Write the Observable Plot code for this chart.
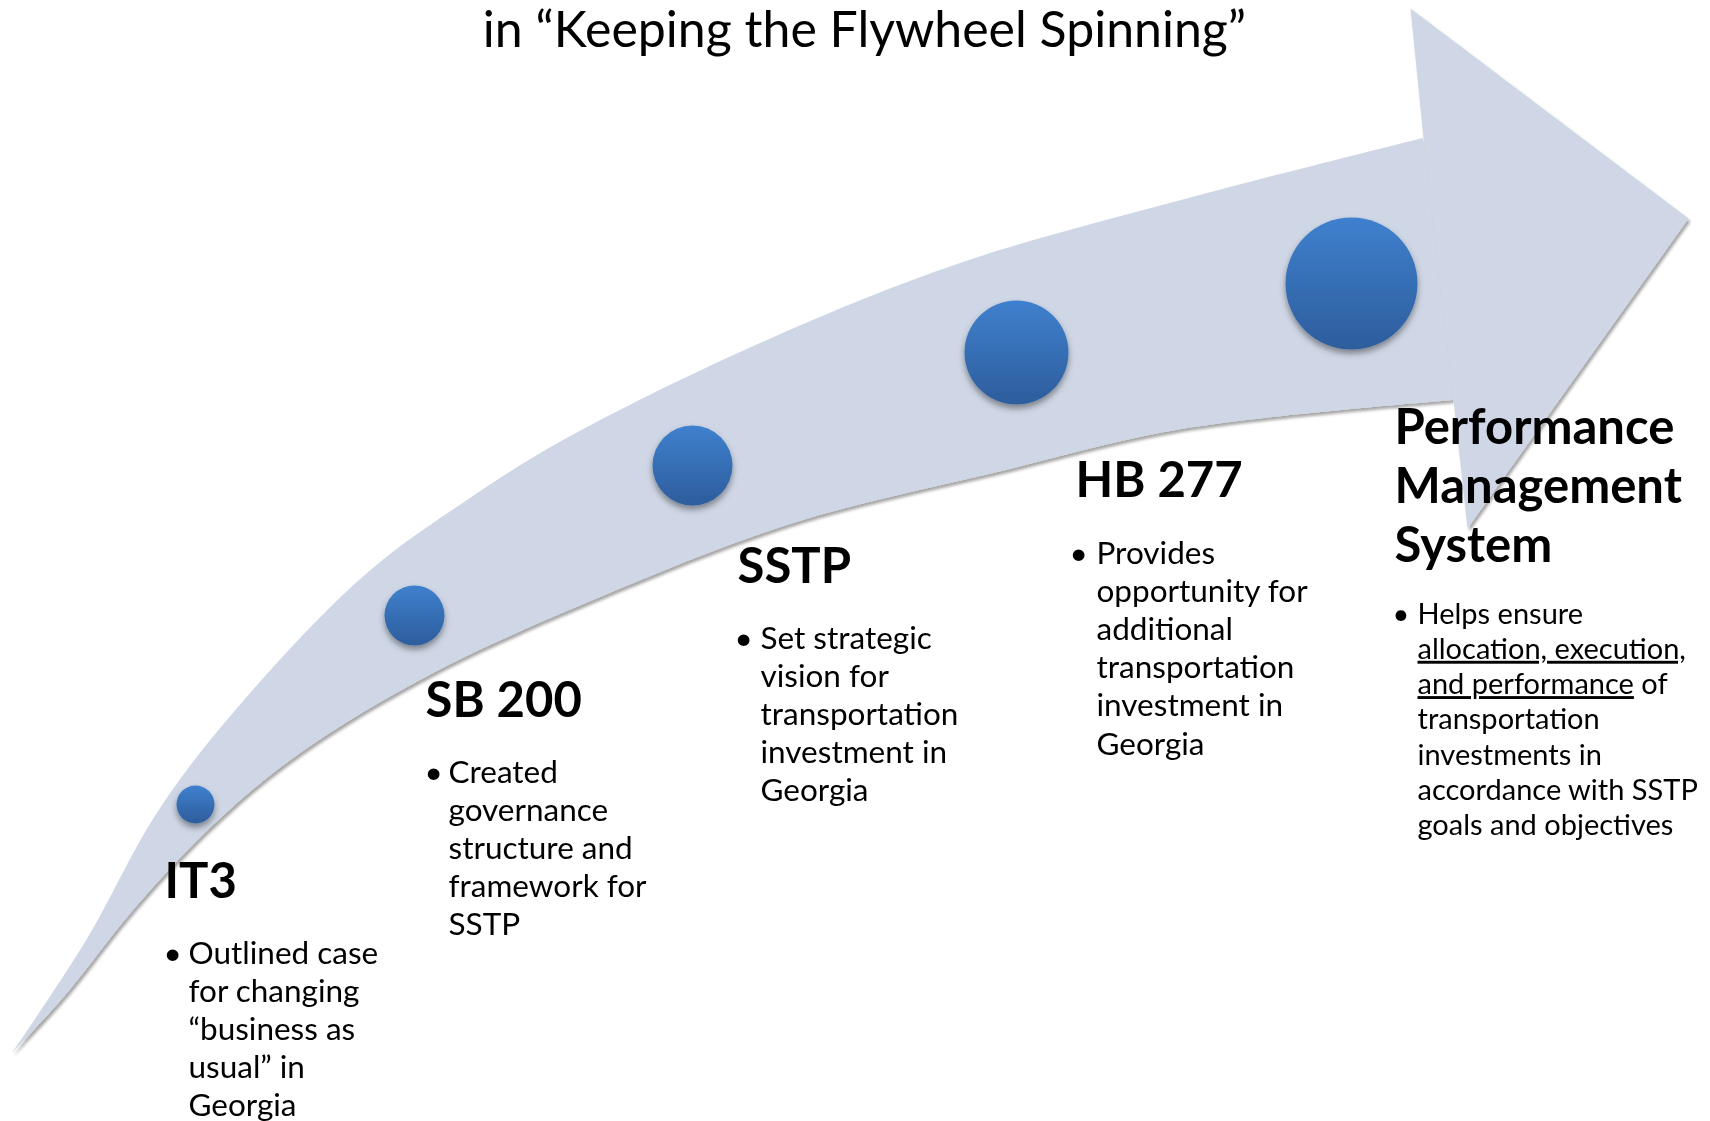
<!DOCTYPE html>
<html>
<head>
<meta charset="utf-8">
<script src="https://cdn.jsdelivr.net/npm/d3@7"></script>
<script src="https://cdn.jsdelivr.net/npm/@observablehq/plot@0.6"></script>
<style>
html, body { margin: 0; padding: 0; background: #ffffff; }
#chart svg { display: block; }
</style>
</head>
<body>
<div id="chart"></div>
<script>
// ---- Text content ----
const title = "in “Keeping the Flywheel Spinning”";
const milestones = ["IT3", "SB 200", "SSTP", "HB 277", "Performance\nManagement\nSystem"];
const descriptions = [
  "Outlined case\nfor changing\n“business as\nusual” in\nGeorgia",
  "Created\ngovernance\nstructure and\nframework for\nSSTP",
  "Set strategic\nvision for\ntransportation\ninvestment in\nGeorgia",
  "Provides\nopportunity for\nadditional\ntransportation\ninvestment in\nGeorgia",
  "Helps ensure\nallocation, execution,\nand performance of\ntransportation\ninvestments in\naccordance with SSTP\ngoals and objectives"
];

// ---- Milestone circles ----
const circleX = [195, 414, 692, 1016, 1351];
const circleY = [804, 615, 465, 352, 283];
const circleR = [19, 30, 40, 52, 66];

// ---- Label anchors ----
const labelX = [164, 425, 737, 1075, 1394];
const labelBaseline = [897, 716, 582, 496, 443];
const bulletX = [163, 424, 734, 1069, 1392];
const bodyX = [188, 448, 760, 1096, 1417];
const bodyBaseline = [963, 782, 648, 563, 623];
const bodyStep = [38.2, 38.2, 38.2, 38.2, 35.3];
const bodySize = [31.5, 31.5, 31.5, 31.5, 29];

// ---- Arrow outline ----
const upperX = [12, 85, 160, 250, 367, 467, 563, 760, 960, 1181, 1423];
const upperY = [1053, 942, 808, 693, 573, 500, 440, 343, 263, 200, 138];
const lowerX = [12, 67, 133, 213, 300, 433, 600, 793, 993, 1181, 1453];
const lowerY = [1053, 993, 910, 825, 753, 673, 597, 523, 473, 429, 400];
const headX = [1423, 1410, 1688, 1467, 1453];
const headY = [138, 8, 218, 528, 400];

const W = 1710, H = 1121;
const FONT = "Lato, 'Open Sans', sans-serif";
const ARROW = "#CFD7E6";
const headSize = 49, headStep = 59;

const shaft = upperX.map((_, i) => ({x1: upperX[i], y1: upperY[i], x2: lowerX[i], y2: lowerY[i]}));
const head = headX.map((x, i) => ({x, y: headY[i]}));
const stages = milestones.map((m, i) => ({name: m, cx: circleX[i], cy: circleY[i], r: circleR[i]}));

const headingRows = [];
const bodyRows = [];
const bulletRows = [];
milestones.forEach((m, i) => {
  m.split("\n").forEach((t, j) => headingRows.push({x: labelX[i], y: labelBaseline[i] + j * headStep, text: t}));
  descriptions[i].split("\n").forEach((t, j) => bodyRows.push({x: bodyX[i], y: bodyBaseline[i] + j * bodyStep[i], text: t, size: bodySize[i]}));
  bulletRows.push({x: bulletX[i], y: bodyBaseline[i], text: "•", size: bodySize[i]});
});

const plot = Plot.plot({
  width: W,
  height: H,
  margin: 0,
  x: {domain: [0, W], range: [0, W], axis: null},
  y: {domain: [0, H], range: [0, H], axis: null},
  r: {type: "identity"},
  style: {fontFamily: FONT, background: "#ffffff", overflow: "visible"},
  marks: [
    Plot.area(shaft, {x1: "x1", y1: "y1", x2: "x2", y2: "y2", curve: "catmull-rom", fill: ARROW}),
    Plot.line(head, {x: "x", y: "y", curve: "linear-closed", fill: ARROW, stroke: "none"}),
    Plot.dot(stages, {x: "cx", y: "cy", r: "r", fill: "#3A70B8", stroke: "none"}),
    Plot.text([title], {x: 864, y: 46, text: d => d, fontSize: 50, textAnchor: "middle", lineAnchor: "bottom", fill: "#000"}),
    Plot.text(headingRows, {x: "x", y: "y", text: "text", fontSize: headSize, fontWeight: "bold", textAnchor: "start", lineAnchor: "bottom", fill: "#000"}),
    Plot.text(bulletRows, {x: "x", y: "y", text: "text", fontSize: "size", textAnchor: "start", lineAnchor: "bottom", fill: "#000"}),
    Plot.text(bodyRows, {x: "x", y: "y", text: "text", fontSize: "size", textAnchor: "start", lineAnchor: "bottom", fill: "#000"})
  ]
});

// ---- Decorations: gradients, shadows, underlines ----
const NS = "http://www.w3.org/2000/svg";
const svg = d3.select(plot);
const defs = svg.insert("defs", ":first-child");
const grad = defs.append("linearGradient").attr("id", "ballGrad").attr("x1", 0).attr("y1", 0).attr("x2", 0).attr("y2", 1);
grad.append("stop").attr("offset", "0%").attr("stop-color", "#3F80CE");
grad.append("stop").attr("offset", "100%").attr("stop-color", "#2D5D9C");
const fa = defs.append("filter").attr("id", "arrowShadow").attr("x", "-5%").attr("y", "-5%").attr("width", "110%").attr("height", "110%");
fa.append("feDropShadow").attr("dx", 2).attr("dy", 3).attr("stdDeviation", 1.6).attr("flood-color", "#000").attr("flood-opacity", 0.35);
const fb = defs.append("filter").attr("id", "ballShadow").attr("x", "-30%").attr("y", "-30%").attr("width", "160%").attr("height", "170%");
fb.append("feDropShadow").attr("dx", 0).attr("dy", 4).attr("stdDeviation", 3).attr("flood-color", "#000").attr("flood-opacity", 0.4);

const areaG = plot.querySelector('g[aria-label="area"]');
const lineG = plot.querySelector('g[aria-label="line"]');
const wrap = document.createElementNS(NS, "g");
areaG.parentNode.insertBefore(wrap, areaG);
wrap.appendChild(areaG);
wrap.appendChild(lineG);
wrap.setAttribute("filter", "url(#arrowShadow)");

const dotG = plot.querySelector('g[aria-label="dot"]');
dotG.setAttribute("filter", "url(#ballShadow)");
d3.select(dotG).selectAll("circle").attr("fill", "url(#ballGrad)");

svg.selectAll("text").each(function () {
  const t = this.textContent;
  if (t === "allocation, execution,") {
    this.style.textDecoration = "underline";
  } else if (t === "and performance of") {
    this.textContent = "";
    const u = document.createElementNS(NS, "tspan");
    u.textContent = "and performance";
    u.style.textDecoration = "underline";
    this.appendChild(u);
    this.appendChild(document.createTextNode(" of"));
  }
});

document.getElementById("chart").appendChild(plot);
</script>
</body>
</html>
